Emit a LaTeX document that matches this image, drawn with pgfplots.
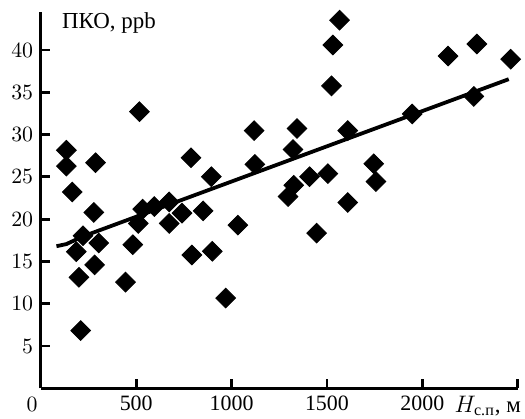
\documentclass[border=0pt]{standalone}
\usepackage{amsmath}
\usepackage{pgfplots}
\pgfplotsset{compat=1.18}
\usepackage{fontspec}
\setmainfont{Liberation Serif}

\begin{document}
\fontsize{11}{13}\selectfont
\begin{tikzpicture}
  \begin{axis}[
      scale only axis,
      width=239.5pt,height=189pt,
      xmin=0,xmax=2500,ymin=0,ymax=44.5,
      axis lines=left,
      axis line style={-,line width=1.5pt},
      tick align=inside,
      major tick length=4.5pt,
      every tick/.style={black,line width=1.4pt},
      xtick={500,1000,1500,2000,2500},
      xticklabels={500,1000,1500,2000,{}},
      ytick={5,10,15,20,25,30,35,40},
      tick label style={font=\fontsize{11}{13}\selectfont},
      clip=false,
    ]
    % measured points
    \addplot[only marks,mark=square*,mark size=3.5pt,
      mark options={rotate=45,fill=black,draw=black}] coordinates {
      (134,28.15) (134,26.27) (287,26.67) (165,23.21) (278,20.79)
      (186,16.15) (221,18.04) (304,17.18) (282,14.59) (200,13.12)
      (444,12.55) (209,6.82) (482,16.98) (511,19.49) (534,21.18)
      (595,21.49) (673,22.04) (673,19.49) (740,20.71) (851,20.98)
      (787,27.26) (894,25.02) (792,15.76) (899,16.2) (1033,19.29)
      (969,10.67) (517,32.71) (1118,30.47) (1343,30.71) (1609,30.47)
      (1322,28.24) (1122,26.47) (1409,25.02) (1505,25.38) (1326,24.0)
      (1296,22.67) (1745,26.55) (1757,24.44) (1609,21.96) (1446,18.35)
      (2135,39.29) (2286,40.71) (2463,38.91) (2270,34.51) (1947,32.44)
      (1566,43.53) (1531,40.59) (1524,35.76)
    };
    % fitted line
    \addplot[black,line width=1.9pt] coordinates {
      (82,16.8) (134,17.05) (220,17.95) (2453,36.55)
    };
    \node[anchor=west,inner sep=0pt,font=\fontsize{11.5}{13}\selectfont] at (axis cs:110,43.2) {ПКО, ppb};
    \node[anchor=north east,inner sep=0pt] at (axis cs:0,0) [xshift=-1.5pt,yshift=-4.2pt] {$0$};
    \node[anchor=north,inner sep=0pt,font=\fontsize{11.5}{13}\selectfont] at (axis cs:2343,0) [yshift=-3.6pt] {$H_{\text{с.п}}$, м};
  \end{axis}
  \path (-20.5pt,-12pt) rectangle (242pt,195pt);
\end{tikzpicture}
\end{document}
